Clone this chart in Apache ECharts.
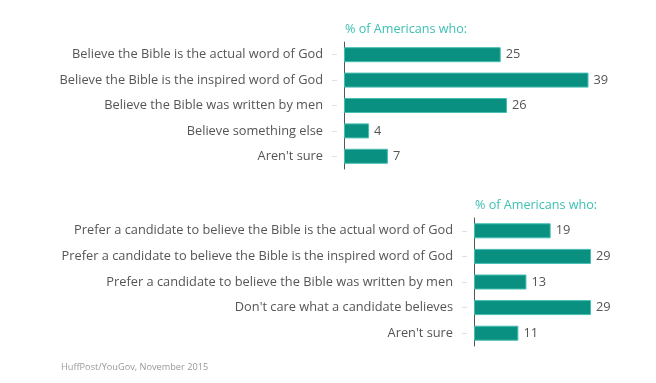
<!DOCTYPE html>
<html><head><meta charset="utf-8">
<script src="https://cdn.jsdelivr.net/npm/echarts@6/dist/echarts.min.js"></script>
<style>html,body{margin:0;padding:0;background:#fff}#c{width:656px;height:383px}</style>
</head><body><div id="c"></div>
<script>
const topCategories = [
  "Believe the Bible is the actual word of God",
  "Believe the Bible is the inspired word of God",
  "Believe the Bible was written by men",
  "Believe something else",
  "Aren't sure"
];
const topValues = [25, 39, 26, 4, 7];
const bottomCategories = [
  "Prefer a candidate to believe the Bible is the actual word of God",
  "Prefer a candidate to believe the Bible is the inspired word of God",
  "Prefer a candidate to believe the Bible was written by men",
  "Don't care what a candidate believes",
  "Aren't sure"
];
const bottomValues = [19, 29, 13, 29, 11];
const panelTitle = "% of Americans who:";
const sourceText = "HuffPost/YouGov, November 2015";

const FONT = "Open Sans";
const TEAL = "#0a9080";
const chart = echarts.init(document.getElementById('c'), null, {renderer: 'canvas'});

function catAxis(gridIndex, cats, withLabels) {
  return {
    type: 'category', gridIndex, data: cats, inverse: true, position: 'left',
    offset: withLabels ? 0 : 7,
    axisLine: {show: withLabels, lineStyle: {color: '#555', width: 1}},
    axisTick: withLabels ? {show: false} : {show: true, alignWithLabel: true, length: 5, lineStyle: {color: '#e0e0e0'}},
    axisLabel: withLabels ? {show: true, color: '#555', fontFamily: FONT, fontSize: 12.8, margin: 21} : {show: false},
    splitLine: {show: false}
  };
}
function valAxis(gridIndex) {
  return {type: 'value', gridIndex, min: 0, max: 'dataMax', show: false, splitLine: {show: false}};
}
function barSeries(idx, vals) {
  return {
    type: 'bar', xAxisIndex: idx, yAxisIndex: idx * 2, data: vals, barWidth: 15,
    itemStyle: {color: TEAL, borderColor: '#45bfb1', borderWidth: 1},
    label: {show: true, position: 'right', distance: 5, color: '#555', fontFamily: FONT, fontSize: 12.8},
    animation: false
  };
}

chart.setOption({
  animation: false,
  title: [
    {text: panelTitle, left: 345, top: 23, padding: 0, textStyle: {color: '#3dbfb2', fontFamily: FONT, fontSize: 12.6, fontWeight: 'normal'}},
    {text: panelTitle, left: 475, top: 199, padding: 0, textStyle: {color: '#3dbfb2', fontFamily: FONT, fontSize: 12.6, fontWeight: 'normal'}},
    {text: sourceText, left: 61, top: 363, padding: 0, textStyle: {color: '#999', fontFamily: FONT, fontSize: 9.2, fontWeight: 'normal'}}
  ],
  grid: [
    {left: 344, top: 42, width: 244.5, height: 127},
    {left: 474, top: 218, width: 117, height: 128}
  ],
  xAxis: [valAxis(0), valAxis(1)],
  yAxis: [catAxis(0, topCategories, true), catAxis(0, topCategories, false),
          catAxis(1, bottomCategories, true), catAxis(1, bottomCategories, false)],
  series: [barSeries(0, topValues), barSeries(1, bottomValues)]
});
</script></body></html>
